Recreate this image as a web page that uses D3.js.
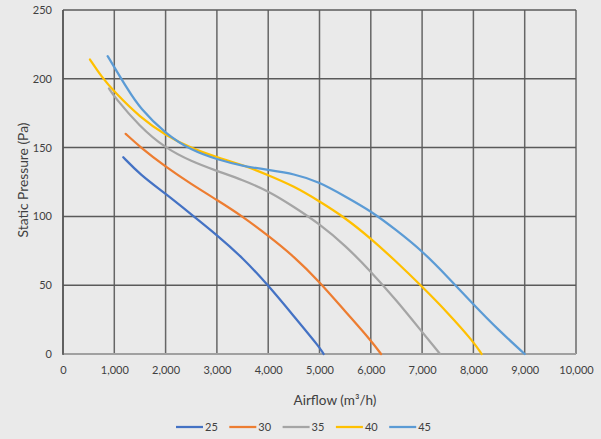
<!DOCTYPE html>
<html><head><meta charset="utf-8">
<script src="https://cdn.jsdelivr.net/npm/d3@7"></script>
<style>
html,body{margin:0;padding:0;background:#EAEAEA;}
svg{display:block;font-family:Lato,"Open Sans",sans-serif;}
</style></head>
<body>
<svg id="c" width="601" height="439"></svg>
<script>
const seriesNames = ["25","30","35","40","45"];
const seriesColors = ["#4472C4","#ED7D31","#A5A5A5","#FFC000","#5B9BD5"];
const s25 = [[1175,143],[1500,130.5],[2000,116.5],[2500,101.5],[3000,86.5],[3500,70],[4000,50],[4500,27.5],[5000,5],[5080,0]];
const s30 = [[1222,160],[1500,150.5],[2000,136],[2500,123.5],[3000,112],[3500,100],[4000,86],[4500,71],[5000,52.5],[5500,31],[6000,10],[6200,0]];
const s35 = [[896,193],[1000,187],[1500,165],[2000,149.5],[2500,140],[3000,133],[3500,126.5],[4000,118.5],[4500,107],[5000,94.5],[5500,79],[6000,60],[6500,39],[7000,16],[7350,0]];
const s40 = [[526,214],[750,201.5],[1000,190.5],[1500,172],[2000,159],[2500,149.5],[3000,143],[3500,137.5],[4000,130],[4500,122],[5000,111],[5500,99],[6000,84],[6500,67],[7000,49],[7500,30],[8000,9],[8160,0]];
const s45 = [[870,216.5],[1000,208.5],[1250,193],[1500,178.5],[2000,160],[2500,148],[3000,141.4],[3500,136.6],[4000,133.7],[4500,131],[5000,125],[5500,114.5],[6000,104],[6500,90],[7000,75],[7500,56],[8000,36],[8500,17],[9000,0]];
const xTicks = [0,1000,2000,3000,4000,5000,6000,7000,8000,9000,10000];
const yTicks = [0,50,100,150,200,250];
const allSeries = [s25,s30,s35,s40,s45];

const svg = d3.select("#c");
const x = d3.scaleLinear().domain([0,10000]).range([63,576]);
const y = d3.scaleLinear().domain([0,250]).range([354,10]);
const fmt = d3.format(",");

// gridlines
svg.append("g").selectAll("line").data(xTicks).join("line")
  .attr("x1",d=>x(d)).attr("x2",d=>x(d)).attr("y1",y(250)).attr("y2",y(0))
  .attr("stroke",d=>d===10000?"#8a8a8a":"#666").attr("stroke-width",d=>d===10000?2:1.5);
svg.append("g").selectAll("line").data(yTicks).join("line")
  .attr("x1",x(0)).attr("x2",x(10000)).attr("y1",d=>y(d)).attr("y2",d=>y(d))
  .attr("stroke",d=>d===0?"#a0a0a0":"#5a5a5a").attr("stroke-width",d=>d===0?2:1.5);
svg.append("line").attr("x1",x(0)).attr("x2",x(0)).attr("y1",y(250)).attr("y2",y(0)+1)
  .attr("stroke","#555").attr("stroke-width",1.5);

// tick labels
const xa = svg.append("g").attr("transform",`translate(0,${y(0)})`)
  .call(d3.axisBottom(x).tickValues(xTicks).tickFormat(fmt).tickSize(0).tickPadding(12));
xa.select(".domain").remove();
xa.selectAll("text").attr("font-size",11).attr("fill","#404040").attr("font-family","Lato");
const ya = svg.append("g").attr("transform",`translate(${x(0)},0)`)
  .call(d3.axisLeft(y).tickValues(yTicks).tickSize(0).tickPadding(11));
ya.select(".domain").remove();
ya.selectAll("text").attr("font-size",11).attr("fill","#404040").attr("font-family","Lato");

// series
const line = d3.line().x(d=>x(d[0])).y(d=>y(d[1])).curve(d3.curveBasis);
svg.append("g").selectAll("path").data(allSeries).join("path")
  .attr("d",line).attr("fill","none")
  .attr("stroke",(d,i)=>seriesColors[i]).attr("stroke-width",2.25).attr("stroke-linecap","round");

// axis titles (fit to reference widths)
function fit(sel, target){
  const n = sel.node(); const w = n.getComputedTextLength();
  const fs = +sel.attr("font-size");
  if (w > 0) sel.attr("font-size", (fs*target/w).toFixed(2));
}
const xt = svg.append("text").attr("x",335).attr("y",405).attr("text-anchor","middle")
  .attr("font-size",12).attr("fill","#404040").text("Airflow (m³/h)");
fit(xt, 83);
const yt = svg.append("text").attr("transform","translate(28,180) rotate(-90)").attr("text-anchor","middle")
  .attr("font-size",12).attr("fill","#404040").text("Static Pressure (Pa)");
fit(yt, 115);

// legend
const lg = svg.append("g").selectAll("g").data(seriesNames).join("g")
  .attr("transform",(d,i)=>`translate(${176+i*53.3},427)`);
lg.append("line").attr("x1",0).attr("x2",27).attr("y1",0).attr("y2",0)
  .attr("stroke",(d,i)=>seriesColors[i]).attr("stroke-width",2.25);
lg.append("text").attr("x",29).attr("y",4).attr("font-size",11).attr("fill","#404040").text(d=>d);
</script>
</body></html>
